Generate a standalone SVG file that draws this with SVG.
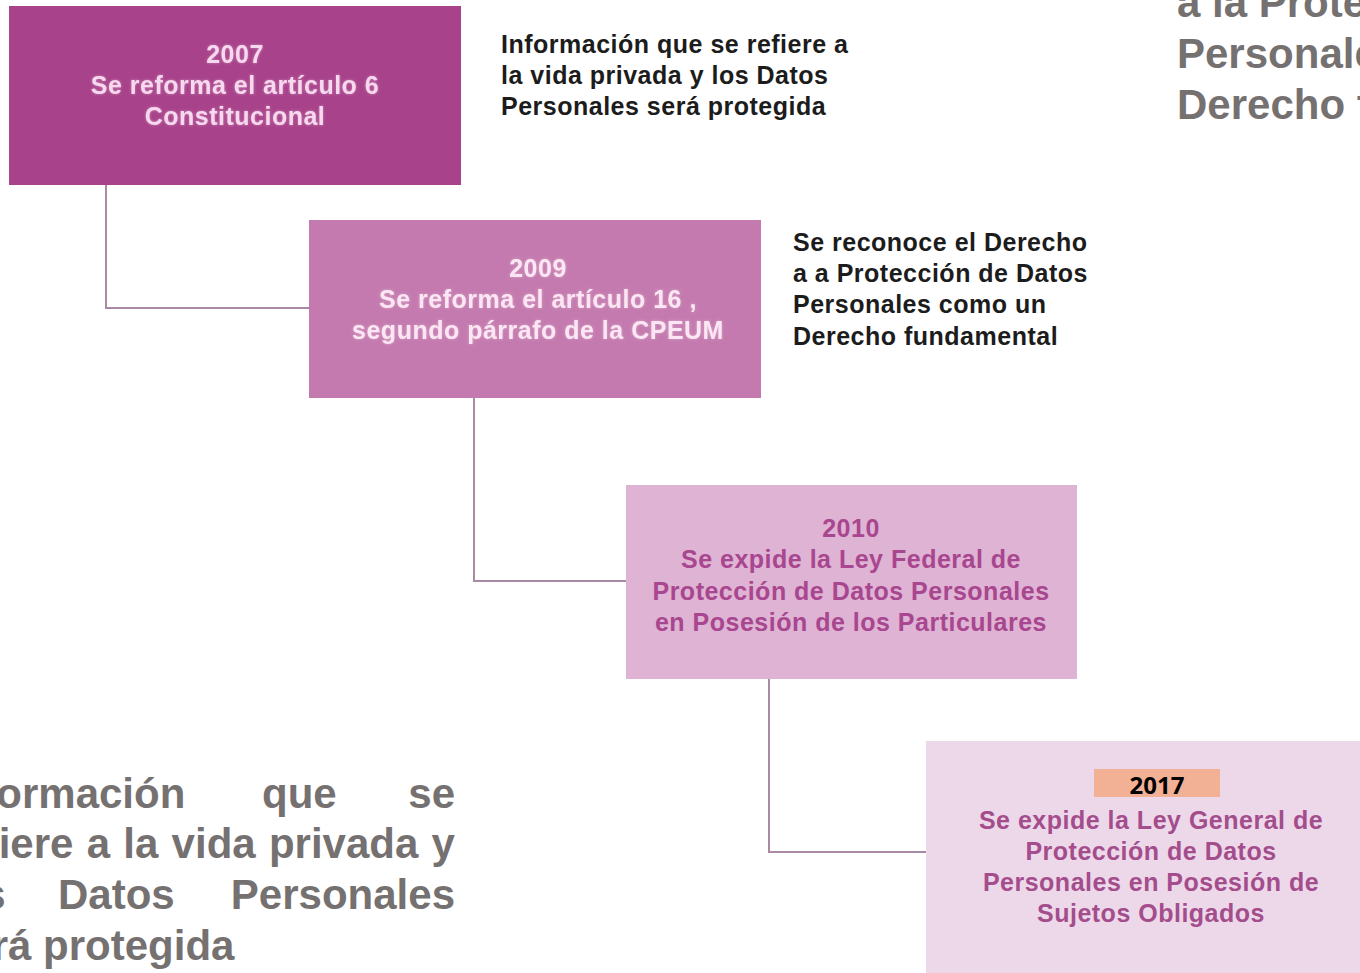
<svg xmlns="http://www.w3.org/2000/svg" width="1360" height="973" viewBox="0 0 1360 973">
<style>
.bt{font-family:"Liberation Sans",Arial,sans-serif;font-weight:bold;font-size:25px;letter-spacing:0.5px;text-anchor:middle}
.side{font-family:"Liberation Sans",Arial,sans-serif;font-weight:bold;font-size:25px;letter-spacing:0.5px;fill:#1c1c1c}
.big{font-family:"Liberation Sans",Arial,sans-serif;font-weight:bold;font-size:42px;fill:#767171}
.conn{fill:none;stroke:#a98aa4;stroke-width:2}
</style>
<defs>
<filter id="glow" x="-10%" y="-30%" width="120%" height="160%">
<feGaussianBlur in="SourceAlpha" stdDeviation="1.5" result="b"/>
<feFlood flood-color="#ffffff" flood-opacity="0.35"/>
<feComposite in2="b" operator="in" result="g"/>
<feMerge><feMergeNode in="g"/><feMergeNode in="SourceGraphic"/></feMerge>
</filter>
</defs>
<rect width="1360" height="973" fill="#ffffff"/>
<g id="connectors">
<polyline class="conn" points="106,185 106,308 309,308"/>
<polyline class="conn" points="474,398 474,581 626,581"/>
<polyline class="conn" points="769,679 769,852 926,852"/>
</g>
<g id="node2007">
<rect x="9" y="6" width="452" height="179" fill="#a8428a"/>
<text class="bt" fill="#f7d8ee" filter="url(#glow)"><tspan x="235" y="63">2007</tspan><tspan x="235" y="94">Se reforma el artículo 6</tspan><tspan x="235" y="125">Constitucional</tspan></text>
</g>
<g id="node2009">
<rect x="309" y="220" width="452" height="178" fill="#c47aae"/>
<text class="bt" fill="#fde6f4" filter="url(#glow)"><tspan x="538" y="277">2009</tspan><tspan x="538" y="308">Se reforma el artículo 16 ,</tspan><tspan x="538" y="339">segundo párrafo de la CPEUM</tspan></text>
</g>
<g id="node2010">
<rect x="626" y="485" width="451" height="194" fill="#dfb3d3"/>
<text class="bt" fill="#a8468f"><tspan x="851" y="537">2010</tspan><tspan x="851" y="568">Se expide la Ley Federal de</tspan><tspan x="851" y="600">Protección de Datos Personales</tspan><tspan x="851" y="631">en Posesión de los Particulares</tspan></text>
</g>
<g id="node2017">
<rect x="926" y="741" width="440" height="240" fill="#edd8ea"/>
<rect x="1094" y="769" width="126" height="28" fill="#f2b094"/>
<text x="1157" y="794" font-family="'Open Sans',Lato,sans-serif" font-weight="bold" font-size="24" text-anchor="middle" fill="#000000">2017</text>
<text class="bt" fill="#a44d8c"><tspan x="1151" y="829">Se expide la Ley General de</tspan><tspan x="1151" y="860">Protección de Datos</tspan><tspan x="1151" y="891">Personales en Posesión de</tspan><tspan x="1151" y="922">Sujetos Obligados</tspan></text>
</g>
<g id="note2007">
<text class="side"><tspan x="501" y="53">Información que se refiere a</tspan><tspan x="501" y="84">la vida privada y los Datos</tspan><tspan x="501" y="115">Personales será protegida</tspan></text>
</g>
<g id="note2009">
<text class="side"><tspan x="793" y="251">Se reconoce el Derecho</tspan><tspan x="793" y="282">a a Protección de Datos</tspan><tspan x="793" y="313">Personales como un</tspan><tspan x="793" y="345">Derecho fundamental</tspan></text>
</g>
<g id="bigTopRight">
<text class="big"><tspan x="1177" y="17">a la Protección de Datos</tspan><tspan x="1177" y="68">Personales como un</tspan><tspan x="1177" y="119">Derecho fundamental</tspan></text>
</g>
<g id="bigBottomLeft">
<text class="big" y="808"><tspan x="-55">Información</tspan><tspan x="262">que</tspan><tspan x="455" text-anchor="end">se</tspan></text>
<text class="big" y="858" word-spacing="1.6"><tspan x="-55">refiere a la vida privada y</tspan></text>
<text class="big" y="909"><tspan x="-55">los</tspan><tspan x="58">Datos</tspan><tspan x="455" text-anchor="end">Personales</tspan></text>
<text class="big" y="960"><tspan x="-55">será protegida</tspan></text>
</g>
</svg>
